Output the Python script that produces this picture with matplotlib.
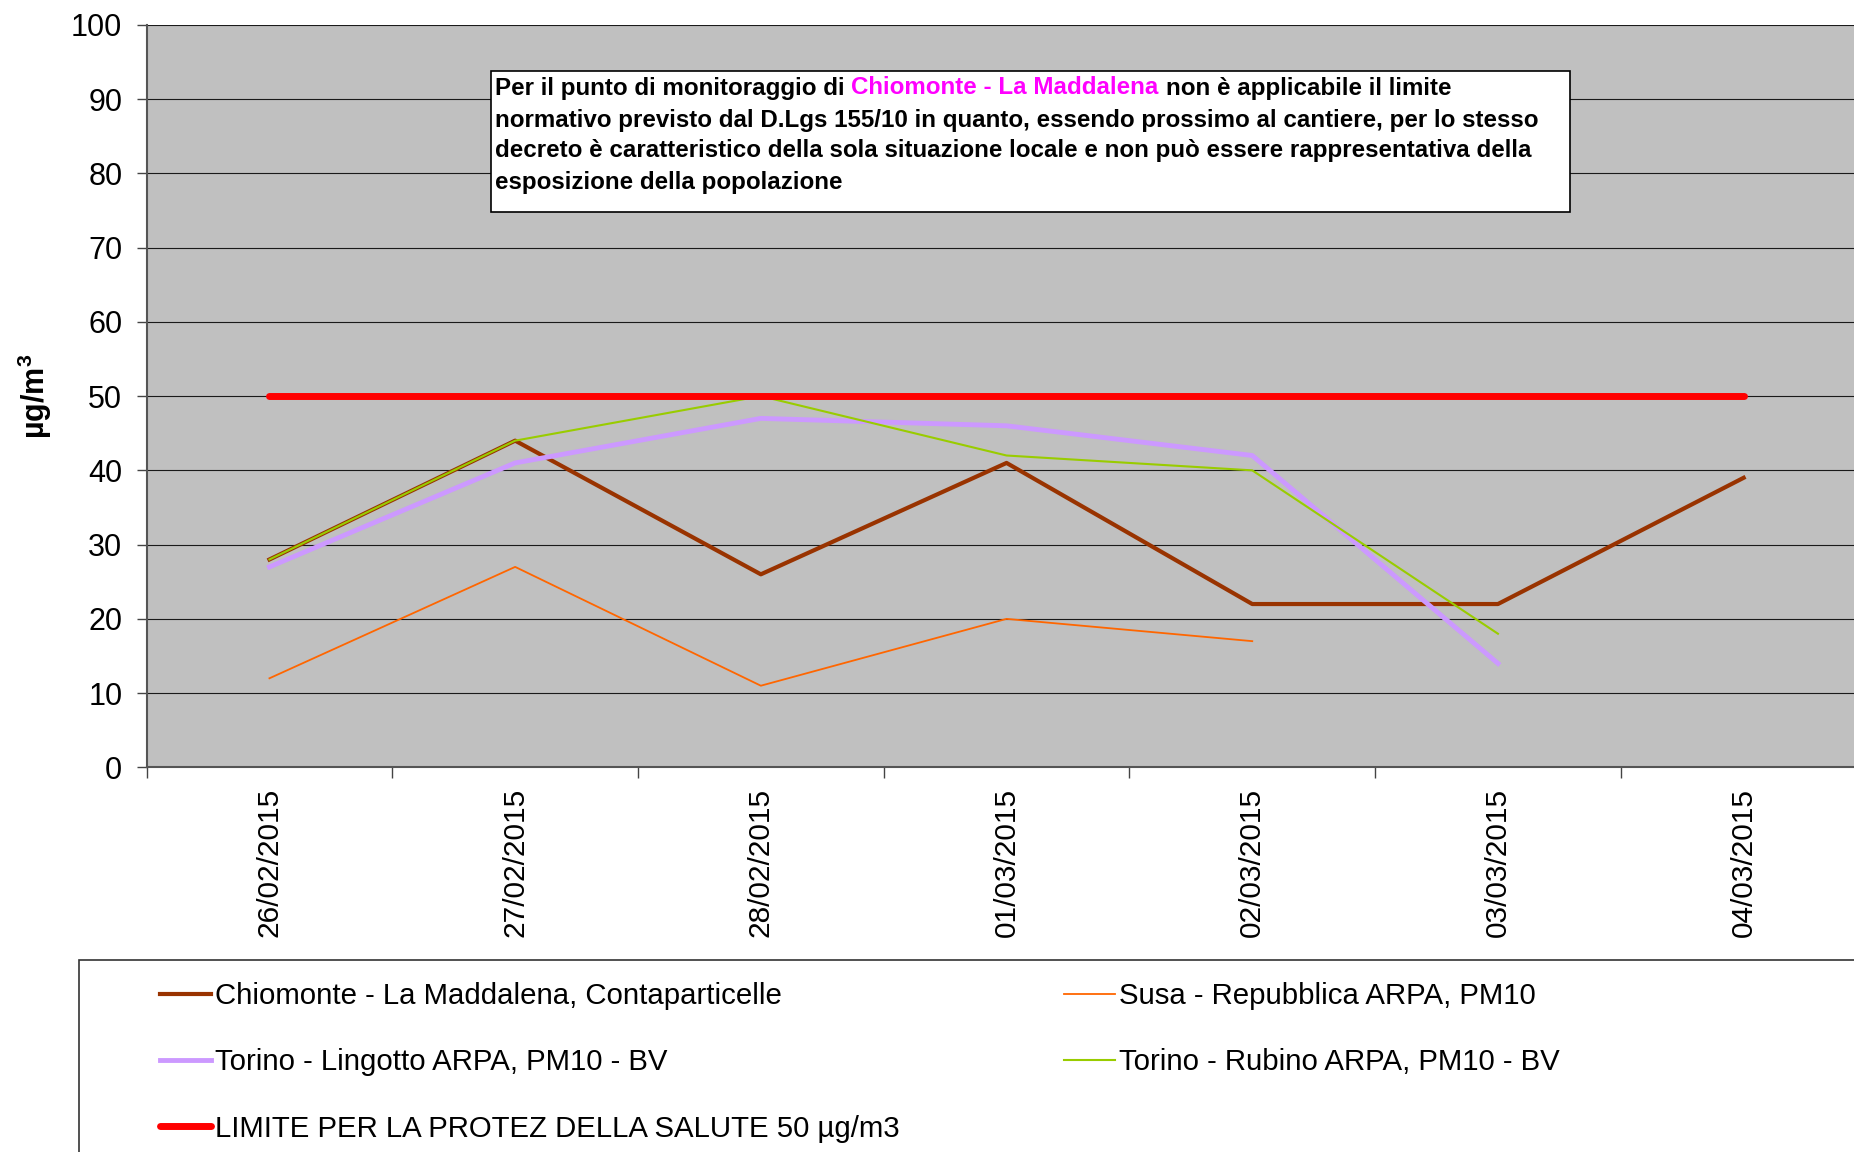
import numpy as np
import matplotlib
matplotlib.use('Agg')
import matplotlib.pyplot as plt
from matplotlib.patches import Rectangle

plt.rcParams.update({'font.family': 'Liberation Sans'})
plt.rcParams.update({'mathtext.fontset': 'custom',
                     'mathtext.rm': 'Liberation Sans',
                     'mathtext.bf': 'Liberation Sans:bold'})

# data
dates = ['26/02/2015', '27/02/2015', '28/02/2015', '01/03/2015',
         '02/03/2015', '03/03/2015', '04/03/2015']
chiomonte = [28, 44, 26, 41, 22, 22, 39]
susa = [12, 27, 11, 20, 17, np.nan, np.nan]
lingotto = [27, 41, 47, 46, 42, 14, np.nan]
rubino = [28, 44, 50, 42, 40, 18, np.nan]
limite = [50, 50, 50, 50, 50, 50, 50]

labels = ['Chiomonte - La Maddalena, Contaparticelle',
          'Susa - Repubblica ARPA, PM10',
          'Torino - Lingotto ARPA, PM10 - BV',
          'Torino - Rubino ARPA, PM10 - BV',
          'LIMITE PER LA PROTEZ DELLA SALUTE 50 µg/m3']
colors = ['#993300', '#FF6600', '#CC99FF', '#99CC00', '#FF0000']

W, H = 1854, 1152
fig = plt.figure(figsize=(W / 100, H / 100), dpi=100)

# axes area in pixels (extends a bit past the right edge like the original)
x0, x1 = 146.6, 146.6 + 7 * 245.7
ytop, ybot = 24.8, 767.4
ax = fig.add_axes([x0 / W, 1 - ybot / H, (x1 - x0) / W, (ybot - ytop) / H])
ax.set_facecolor('#C0C0C0')

x = np.arange(len(dates))
h1, = ax.plot(x, chiomonte, color=colors[0], lw=3.0, label=labels[0], zorder=3)
h2, = ax.plot(x, susa, color=colors[1], lw=1.3, label=labels[1], zorder=4)
h3, = ax.plot(x, lingotto, color=colors[2], lw=3.5, label=labels[2], zorder=5)
h4, = ax.plot(x, rubino, color=colors[3], lw=1.5, label=labels[3], zorder=6)
h5, = ax.plot(x, limite, color=colors[4], lw=5, label=labels[4], zorder=7,
              solid_capstyle='round')

ax.set_xlim(-0.5, 6.5)
ax.set_ylim(0, 100)
ax.set_yticks(np.arange(0, 101, 10))
ax.yaxis.grid(True, color='#1a1a1a', lw=0.8)
ax.set_axisbelow(True)

ax.set_xticks(np.arange(-0.5, 7.0, 1))
ax.set_xticklabels([])
ax.set_xticks(x, minor=True)
ax.set_xticklabels(dates, minor=True, rotation=90)
ax.tick_params(axis='x', which='minor', length=0, pad=15, labelsize=21.5)
ax.tick_params(axis='x', which='major', length=8, width=1, color='#444444', direction='out')
ax.tick_params(axis='y', length=7, width=1, color='#444444', pad=10.5, labelsize=22)

for s in ['top', 'right']:
    ax.spines[s].set_visible(False)
for s in ['left', 'bottom']:
    ax.spines[s].set_color('#555555')
    ax.spines[s].set_linewidth(1.5)

ax.set_ylabel(r'µg/m$^{\mathbf{3}}$', fontsize=22, fontweight='bold')
ax.yaxis.set_label_coords(-0.054, 0.5)

# note box
fs_box = 17.4
fig.add_artist(Rectangle((491 / W, 1 - 212 / H), (1570 - 491) / W, (212 - 71) / H,
                         transform=fig.transFigure, facecolor='white',
                         edgecolor='black', lw=1.2, zorder=3))
renderer = fig.canvas.get_renderer()


def text_w(s):
    t = fig.text(0, 0, s, fontsize=fs_box, fontweight='bold')
    w = t.get_window_extent(renderer).width
    t.remove()
    return w


space_w = text_w('a a') - text_w('aa')
tx = 495
line_y = [88, 120, 151, 182]
parts = [('Per il punto di monitoraggio di', 'black'),
         ('Chiomonte - La Maddalena', '#FF00FF'),
         ('non è applicabile il limite', 'black')]
px = tx
for s, c in parts:
    fig.text(px / W, 1 - line_y[0] / H, s, fontsize=fs_box, fontweight='bold',
             color=c, va='center', ha='left', zorder=4)
    px += text_w(s) + space_w
other_lines = ['normativo previsto dal D.Lgs 155/10 in quanto, essendo prossimo al cantiere, per lo stesso',
               'decreto è caratteristico della sola situazione locale e non può essere rappresentativa della',
               'esposizione della popolazione']
for yy, s in zip(line_y[1:], other_lines):
    fig.text(tx / W, 1 - yy / H, s, fontsize=fs_box, fontweight='bold',
             va='center', ha='left', zorder=4)

# legend frame + two legend columns
fig.add_artist(Rectangle((79 / W, -0.05), 1.0, (H - 960) / H + 0.05,
                         transform=fig.transFigure, facecolor='white',
                         edgecolor='#333333', lw=1.2, zorder=1))
leg_kw = dict(loc='upper left', bbox_transform=fig.transFigure, frameon=False,
              borderpad=0, borderaxespad=0, handlelength=1.72, handletextpad=0.15,
              labelspacing=1.3, fontsize=21.2)
fig.legend(handles=[h1, h3, h5], bbox_to_anchor=(160 / W, 1 - 982 / H), **leg_kw)
fig.legend(handles=[h2, h4], bbox_to_anchor=(1064 / W, 1 - 982 / H), **leg_kw)

fig.savefig('out.png', dpi=100)
